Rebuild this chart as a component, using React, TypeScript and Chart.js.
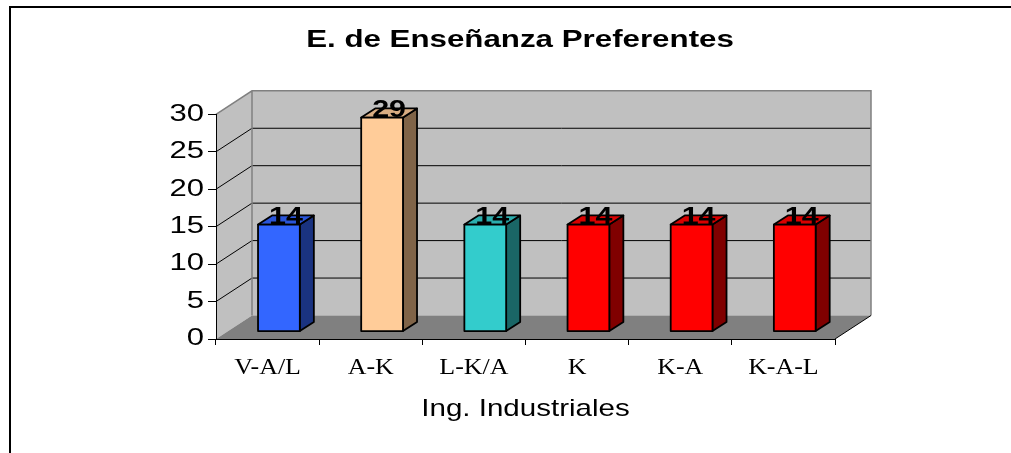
import React, { useEffect, useRef } from 'react';
import { Chart, registerables } from 'chart.js';

Chart.register(...registerables);

// ---- data ----
const categories = ['V-A/L', 'A-K', 'L-K/A', 'K', 'K-A', 'K-A-L'];
const values = [14.29, 28.57, 14.29, 14.29, 14.29, 14.29];
const frontColors = ['#3366FF', '#FFCC99', '#33CCCC', '#FF0000', '#FF0000', '#FF0000'];
const topColors = ['#2A55D9', '#D9AD82', '#2BADAD', '#D90000', '#D90000', '#D90000'];
const sideColors = ['#1A3380', '#806448', '#1A6666', '#800000', '#800000', '#800000'];
const yMin = 0;
const yMax = 30;
const yStep = 5;
const titleText = 'E. de Enseñanza Preferentes';
const xTitleText = 'Ing. Industriales';

// ---- 3D geometry ----
const DX = 36;
const DY = 23.5;
const BAR_OFF = 0.315;
const BAR_DEPTH = 0.39;

const SANS = "'Liberation Sans', Arial, sans-serif";
const SERIF = "'Liberation Serif', 'Times New Roman', serif";

function withStretch(ctx: any, sx: number, fn: () => void) {
  const orig = Object.getPrototypeOf(ctx).fillText;
  ctx.fillText = function (text: string, x: number, y: number, maxWidth?: number) {
    this.save();
    this.translate(x, y);
    this.scale(sx, 1);
    if (maxWidth == null) orig.call(this, text, 0, 0);
    else orig.call(this, text, 0, 0, maxWidth / sx);
    this.restore();
  };
  try {
    fn();
  } finally {
    delete ctx.fillText;
  }
}

function wrapMethod(obj: any, name: string, sx: number) {
  if (!obj || obj['__st_' + name]) return;
  const orig = obj[name];
  obj[name] = function (...args: any[]) {
    let r: any;
    withStretch(this.ctx, sx, () => {
      r = orig.apply(this, args);
    });
    return r;
  };
  obj['__st_' + name] = true;
}

const stretchPlugin = {
  id: 'stretchText',
  afterLayout(chart: any) {
    wrapMethod(chart.titleBlock, 'draw', 1.36);
    wrapMethod(chart.scales.x, 'drawLabels', 1.08);
    wrapMethod(chart.scales.x, 'drawTitle', 1.23);
    wrapMethod(chart.scales.y, 'drawLabels', 1.35);
  },
};

const backdropPlugin = {
  id: 'backdrop3d',
  beforeDraw(chart: any) {
    const { ctx, chartArea: a } = chart;
    const y = chart.scales.y;
    ctx.save();
    ctx.fillStyle = '#ffffff';
    ctx.fillRect(0, 0, chart.width, chart.height);
    // outer frame
    ctx.strokeStyle = '#000';
    ctx.lineWidth = 2;
    ctx.beginPath();
    ctx.moveTo(10, chart.height + 5);
    ctx.lineTo(10, 7);
    ctx.lineTo(chart.width + 5, 7);
    ctx.stroke();

    const L = a.left;
    const R = a.right;
    const yTop = y.getPixelForValue(y.max);
    const yBase = y.getPixelForValue(y.min);

    // left wall
    ctx.fillStyle = '#C0C0C0';
    ctx.beginPath();
    ctx.moveTo(L, yBase);
    ctx.lineTo(L, yTop);
    ctx.lineTo(L + DX, yTop - DY);
    ctx.lineTo(L + DX, yBase - DY);
    ctx.closePath();
    ctx.fill();
    // back wall
    ctx.fillRect(L + DX, yTop - DY, R - L, yBase - yTop);
    // floor
    ctx.fillStyle = '#808080';
    ctx.beginPath();
    ctx.moveTo(L, yBase);
    ctx.lineTo(R, yBase);
    ctx.lineTo(R + DX, yBase - DY);
    ctx.lineTo(L + DX, yBase - DY);
    ctx.closePath();
    ctx.fill();

    // gridlines
    ctx.strokeStyle = '#000';
    ctx.lineWidth = 1;
    y.ticks.forEach((t: any) => {
      if (t.value <= y.min || t.value >= y.max) return;
      const py = y.getPixelForValue(t.value);
      ctx.beginPath();
      ctx.moveTo(L, py);
      ctx.lineTo(L + DX, py - DY);
      ctx.lineTo(R + DX, py - DY);
      ctx.stroke();
    });

    // wall outlines
    ctx.strokeStyle = '#808080';
    ctx.lineWidth = 1.5;
    ctx.beginPath();
    ctx.moveTo(L, yTop);
    ctx.lineTo(L + DX, yTop - DY);
    ctx.lineTo(R + DX, yTop - DY);
    ctx.lineTo(R + DX, yBase - DY);
    ctx.moveTo(L + DX, yTop - DY);
    ctx.lineTo(L + DX, yBase - DY);
    ctx.stroke();

    // floor right edge
    ctx.strokeStyle = '#000';
    ctx.lineWidth = 1;
    ctx.beginPath();
    ctx.moveTo(R, yBase);
    ctx.lineTo(R + DX, yBase - DY);
    ctx.stroke();
    ctx.restore();
  },
  afterDatasetsDraw(chart: any) {
    const ctx = chart.ctx;
    const meta = chart.getDatasetMeta(0);
    const ox = DX * BAR_OFF;
    const oy = DY * BAR_OFF;
    const bdx = DX * BAR_DEPTH;
    const bdy = DY * BAR_DEPTH;
    ctx.save();
    ctx.lineWidth = 1.8;
    ctx.lineJoin = 'round';
    ctx.strokeStyle = '#000';
    meta.data.forEach((el: any, i: number) => {
      const { x, y, base, width } = el.getProps(['x', 'y', 'base', 'width'], true);
      const x0 = x - width / 2 + ox;
      const x1 = x + width / 2 + ox;
      const yt = y - oy;
      const yb = base - oy;
      // side
      ctx.fillStyle = sideColors[i];
      ctx.beginPath();
      ctx.moveTo(x1, yt);
      ctx.lineTo(x1 + bdx, yt - bdy);
      ctx.lineTo(x1 + bdx, yb - bdy);
      ctx.lineTo(x1, yb);
      ctx.closePath();
      ctx.fill();
      ctx.stroke();
      // top
      ctx.fillStyle = topColors[i];
      ctx.beginPath();
      ctx.moveTo(x0, yt);
      ctx.lineTo(x1, yt);
      ctx.lineTo(x1 + bdx, yt - bdy);
      ctx.lineTo(x0 + bdx, yt - bdy);
      ctx.closePath();
      ctx.fill();
      ctx.stroke();
      // front
      ctx.fillStyle = frontColors[i];
      ctx.beginPath();
      ctx.rect(x0, yt, x1 - x0, yb - yt);
      ctx.fill();
      ctx.stroke();
    });
    // data labels
    ctx.fillStyle = '#000';
    ctx.font = `bold 24px ${SANS}`;
    ctx.textAlign = 'center';
    ctx.textBaseline = 'alphabetic';
    meta.data.forEach((el: any, i: number) => {
      const { x, y } = el.getProps(['x', 'y'], true);
      const lx = x + ox + bdx / 2;
      const ly = y - oy - 1;
      const txt = String(Math.round(values[i]));
      withStretch(ctx, 1.27, () => {
        ctx.fillText(txt, lx, ly);
      });
    });
    ctx.restore();
  },
};

export default function App() {
  const canvasRef = useRef<HTMLCanvasElement | null>(null);

  useEffect(() => {
    const canvas = canvasRef.current;
    if (!canvas) return;
    const chart = new Chart(canvas, {
      type: 'bar',
      data: {
        labels: categories,
        datasets: [
          {
            data: values,
            backgroundColor: 'rgba(0,0,0,0)',
            borderWidth: 0,
            barPercentage: 0.405,
            categoryPercentage: 1,
          },
        ],
      },
      options: {
        responsive: false,
        animation: false,
        devicePixelRatio: 1,
        layout: { padding: { left: 29, right: 0, top: 0, bottom: 0 } },
        plugins: {
          legend: { display: false },
          tooltip: { enabled: false },
          title: {
            display: true,
            text: titleText,
            color: '#000',
            font: { family: SANS, size: 23, weight: 'bold' },
            padding: { top: 26.7, bottom: 60 },
          },
        },
        scales: {
          x: {
            offset: true,
            grid: {
              display: true,
              drawOnChartArea: false,
              drawTicks: true,
              tickLength: 6,
              color: '#000',
              offset: true,
            },
            border: { display: true, color: '#000', width: 1 },
            ticks: {
              color: '#000',
              font: { family: SERIF, size: 24 },
              padding: 8,
              maxRotation: 0,
              autoSkip: false,
            },
            title: {
              display: true,
              text: xTitleText,
              color: '#000',
              font: { family: SANS, size: 24 },
              padding: { top: 0, bottom: 29 },
            },
            afterFit: (s: any) => {
              s.height = 114;
            },
          },
          y: {
            min: yMin,
            max: yMax,
            ticks: {
              stepSize: yStep,
              color: '#000',
              font: { family: SANS, size: 23 },
              padding: 4,
            },
            grid: { drawOnChartArea: false, drawTicks: true, tickLength: 8, color: '#000' },
            border: { display: true, color: '#000', width: 1 },
            afterFit: (s: any) => {
              s.width = 187;
            },
          },
          yR: {
            type: 'linear',
            position: 'right',
            display: true,
            grid: { display: false },
            ticks: { display: false },
            border: { display: false },
            afterFit: (s: any) => {
              s.width = 176;
            },
          },
        },
      } as any,
      plugins: [backdropPlugin, stretchPlugin],
    });
    return () => chart.destroy();
  }, []);

  return (
    <div style={{ position: 'absolute', left: 0, top: 0, width: 1011, height: 453 }}>
      <canvas ref={canvasRef} width={1011} height={453} style={{ display: 'block' }} />
    </div>
  );
}
